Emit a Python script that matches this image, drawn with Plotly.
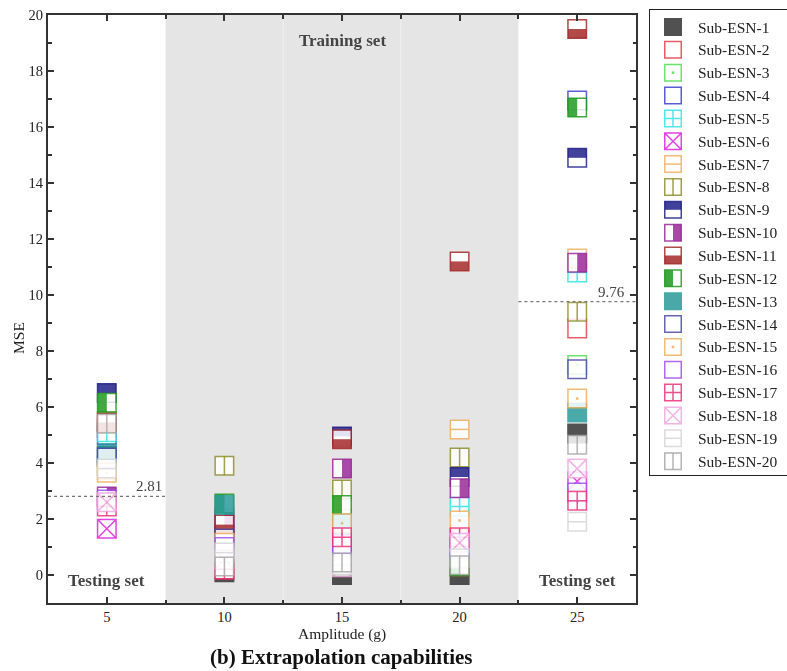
import plotly.graph_objects as go

# ---------------------------------------------------------------- data
amplitudes = [5, 10, 15, 20, 25]          # excitation amplitude (g)
train_amplitudes = [10, 15, 20]
series_names = [f"Sub-ESN-{i}" for i in range(1, 21)]

# MSE of each sub-ESN (index 0 -> Sub-ESN-1 ... index 19 -> Sub-ESN-20)
mse_5g = [4.25, 5.25, 3.9, 5.0, 5.1, 1.65, 3.75, 5.5, 6.5, 2.8,
          5.45, 6.15, 4.35, 4.2, 3.65, 2.7, 2.45, 2.6, 3.8, 5.4]
mse_10g = [0.1, 0.2, 0.6, 1.45, 1.1, 1.4, 1.2, 3.9, 1.85, 2.05,
           1.8, 2.55, 2.5, 1.3, 1.15, 1.0, 0.2, 0.55, 0.8, 0.3]
mse_15g = [0.0, 0.5, 0.45, 1.05, 1.6, 1.25, 2.0, 3.05, 4.95, 3.8,
           4.85, 2.5, 1.8, 0.95, 1.85, 1.1, 1.35, 0.28, 0.35, 0.45]
mse_20g = [0.0, 0.3, 0.7, 0.9, 2.45, 1.3, 5.2, 4.2, 3.5, 3.1,
           11.2, 0.3, 1.0, 1.0, 1.95, 0.95, 1.35, 1.15, 0.6, 0.35]
mse_25g = [5.05, 8.8, 7.5, 16.95, 10.8, 3.35, 11.3, 9.4, 14.9, 11.15,
           19.5, 16.7, 5.8, 7.35, 6.3, 2.95, 2.65, 3.8, 1.9, 4.65]
mse_by_amplitude = [mse_5g, mse_10g, mse_15g, mse_20g, mse_25g]

mse_ref_low = 2.81    # reference level for the 5 g test case
mse_ref_high = 9.76   # reference level for the 25 g test case

# ---------------------------------------------------------------- styles
COLORS = ["#333333", "#e4404e", "#55dd55", "#4040d0", "#30e6e6",
          "#e020e0", "#f0b060", "#8f8f2f", "#20208a", "#9a2a9a",
          "#a52a2a", "#1f9a1f", "#2a9a9a", "#4a4aa8", "#f0b060",
          "#a050f0", "#f0307a", "#f0a8e0", "#d6d6d6", "#a8a8a8"]
GLYPHS = ["filled", "open", "dot", "open", "cross",
          "x", "hline", "vline", "top", "right",
          "bottom", "left", "filled", "open", "dot",
          "open", "cross", "x", "hline", "vline"]

FONT = "Liberation Serif"
W, H = 787, 671
ML, MR, MT, MB = 48, 0, 0, 68
PW, PH = W - ML - MR, H - MT - MB          # paper area in px
PLOT_W, PLOT_H = 588, 588                  # main plotting area in px
X_RANGE = [2.5, 27.5]
Y_RANGE = [-1, 20]
UX = (X_RANGE[1] - X_RANGE[0]) / PLOT_W    # data units per pixel
UY = (Y_RANGE[1] - Y_RANGE[0]) / PLOT_H

fig = go.Figure()


def add_glyph(xs, ys, kind, color, size, lw, xa, ya, ux, uy, opacity=0.85):
    """Square marker with an optional inner pattern or half fill."""
    common = dict(mode="markers", xaxis=xa, yaxis=ya, opacity=opacity,
                  hoverinfo="skip", showlegend=False)
    base = {"cross": "square-cross", "x": "square-x"}.get(kind, "square")
    fill = color if kind == "filled" else "white"
    fig.add_trace(go.Scatter(
        x=xs, y=ys, **common,
        marker=dict(symbol=base, size=size, color=fill,
                    line=dict(color=color, width=lw))))
    q = size / 4.0
    if kind in ("top", "bottom", "left", "right"):
        if kind == "top":
            fx, fy, sym = xs, [v + q * uy for v in ys], "line-ew"
        elif kind == "bottom":
            fx, fy, sym = xs, [v - q * uy for v in ys], "line-ew"
        elif kind == "right":
            fx, fy, sym = [v + q * ux for v in xs], ys, "line-ns"
        else:
            fx, fy, sym = [v - q * ux for v in xs], ys, "line-ns"
        fig.add_trace(go.Scatter(
            x=fx, y=fy, **common,
            marker=dict(symbol=sym, size=size / 1.4, color=color,
                        line=dict(color=color, width=size / 2.0))))
    elif kind in ("hline", "vline"):
        sym = "line-ew" if kind == "hline" else "line-ns"
        fig.add_trace(go.Scatter(
            x=xs, y=ys, **common,
            marker=dict(symbol=sym, size=size / 1.4, color=color,
                        line=dict(color=color, width=lw))))
    elif kind == "dot":
        fig.add_trace(go.Scatter(
            x=xs, y=ys, **common,
            marker=dict(symbol="square", size=2.5, color=color,
                        line=dict(width=0))))


# main markers, series drawn in order so later sub-ESNs sit on top
for i, name in enumerate(series_names):
    vals = [col[i] for col in mse_by_amplitude]
    add_glyph(amplitudes, vals, GLYPHS[i], COLORS[i], 18.5, 1.5,
              "x", "y", UX, UY)

# legend drawn on its own pixel-scaled axes
LEG_X0, LEG_X1, LEG_Y0, LEG_Y1 = 650, 787, 10, 475
LEG_STEP = 22.85
for i, name in enumerate(series_names):
    yy = 17 + LEG_STEP * i
    add_glyph([23], [yy], GLYPHS[i], COLORS[i], 16.5, 1.5,
              "x2", "y2", 1.0, -1.0)
    fig.add_annotation(x=46, y=yy, xref="x2", yref="y2", text=name,
                       showarrow=False, xanchor="left", yanchor="middle",
                       font=dict(family=FONT, size=15.5, color="#222"))

# shaded training region
half_step = (amplitudes[1] - amplitudes[0]) / 2
for a in train_amplitudes:
    fig.add_shape(type="rect", xref="x", yref="y domain",
                  x0=a - half_step, x1=a + half_step, y0=0, y1=1,
                  fillcolor="#e5e5e5", line=dict(width=0), layer="below")
for a in train_amplitudes[:-1]:
    fig.add_shape(type="line", xref="x", yref="y domain",
                  x0=a + half_step, x1=a + half_step, y0=0, y1=1,
                  line=dict(color="#eeeeee", width=1), layer="below")

# reference levels for the test amplitudes
fig.add_shape(type="line", xref="x", yref="y",
              x0=X_RANGE[0], x1=amplitudes[0] + half_step,
              y0=mse_ref_low, y1=mse_ref_low,
              line=dict(color="#777", width=1.2, dash="dot"))
fig.add_shape(type="line", xref="x", yref="y",
              x0=amplitudes[-1] - half_step, x1=X_RANGE[1],
              y0=mse_ref_high, y1=mse_ref_high,
              line=dict(color="#777", width=1.2, dash="dot"))
fig.add_annotation(x=amplitudes[0] + half_step, y=mse_ref_low, xref="x", yref="y",
                   text=f"{mse_ref_low:.2f}", showarrow=False,
                   xanchor="right", yanchor="bottom", xshift=-2, yshift=0,
                   font=dict(family=FONT, size=15, color="#444"))
fig.add_annotation(x=X_RANGE[1], y=mse_ref_high, xref="x", yref="y",
                   text=f"{mse_ref_high:.2f}", showarrow=False,
                   xanchor="right", yanchor="bottom", xshift=-9, yshift=0,
                   font=dict(family=FONT, size=15, color="#444"))


def py(pixel_y):
    return (PH - pixel_y) / PH


def px(pixel_x):
    return (pixel_x - ML) / PW


label_font = dict(family=FONT, size=17, color="#444")
fig.add_annotation(x=train_amplitudes[1], y=py(40), xref="x", yref="paper",
                   text="<b>Training set</b>", showarrow=False,
                   yanchor="middle", font=label_font)
for a in (amplitudes[0], amplitudes[-1]):
    fig.add_annotation(x=a, y=py(580), xref="x", yref="paper",
                       text="<b>Testing set</b>", showarrow=False,
                       yanchor="middle", font=label_font)

fig.add_annotation(x=px(342), y=py(634), xref="paper", yref="paper",
                   text="Amplitude (g)", showarrow=False,
                   xanchor="center", yanchor="middle",
                   font=dict(family=FONT, size=15.5, color="#222"))
fig.add_annotation(x=px(18), y=py(338), xref="paper", yref="paper",
                   text="MSE", showarrow=False, textangle=-90,
                   xanchor="center", yanchor="middle",
                   font=dict(family=FONT, size=15.5, color="#222"))
fig.add_annotation(x=px(341), y=py(657), xref="paper", yref="paper",
                   text="<b>(b) Extrapolation capabilities</b>", showarrow=False,
                   xanchor="center", yanchor="middle",
                   font=dict(family=FONT, size=21, color="#111"))

axis_common = dict(showgrid=False, zeroline=False, showline=True,
                   linecolor="#333", linewidth=2, mirror="ticks",
                   ticks="inside", ticklen=6, tickwidth=1.5, tickcolor="#333",
                   automargin=False,
                   tickfont=dict(family=FONT, size=14.5, color="#222"))

fig.update_layout(
    width=W, height=H,
    margin=dict(l=ML, r=MR, t=MT, b=MB, autoexpand=False),
    paper_bgcolor="white", plot_bgcolor="rgba(0,0,0,0)",
    showlegend=False,
    xaxis=dict(domain=[0, PLOT_W / PW], range=X_RANGE, tickvals=amplitudes,
               anchor="y",
               minor=dict(tickvals=[a + half_step for a in amplitudes[:-1]],
                          ticks="inside", ticklen=3.5, tickcolor="#333"),
               **axis_common),
    yaxis=dict(domain=[0, PLOT_H / PH], range=Y_RANGE,
               tickvals=list(range(0, 21, 2)), anchor="x",
               minor=dict(dtick=1, ticks="inside", ticklen=3.5, tickcolor="#333"),
               **axis_common),
    xaxis2=dict(domain=[px(LEG_X0), 1], range=[0, LEG_X1 - LEG_X0],
                anchor="y2", showgrid=False, zeroline=False, automargin=False,
                showticklabels=False, ticks="", showline=True, mirror=True,
                linecolor="#222", linewidth=1.2, fixedrange=True),
    yaxis2=dict(domain=[py(LEG_Y1), py(LEG_Y0)], range=[LEG_Y1 - LEG_Y0, 0],
                anchor="x2", showgrid=False, zeroline=False, automargin=False,
                showticklabels=False, ticks="", showline=True, mirror=True,
                linecolor="#222", linewidth=1.2, fixedrange=True),
)

fig.write_html("out.html")
